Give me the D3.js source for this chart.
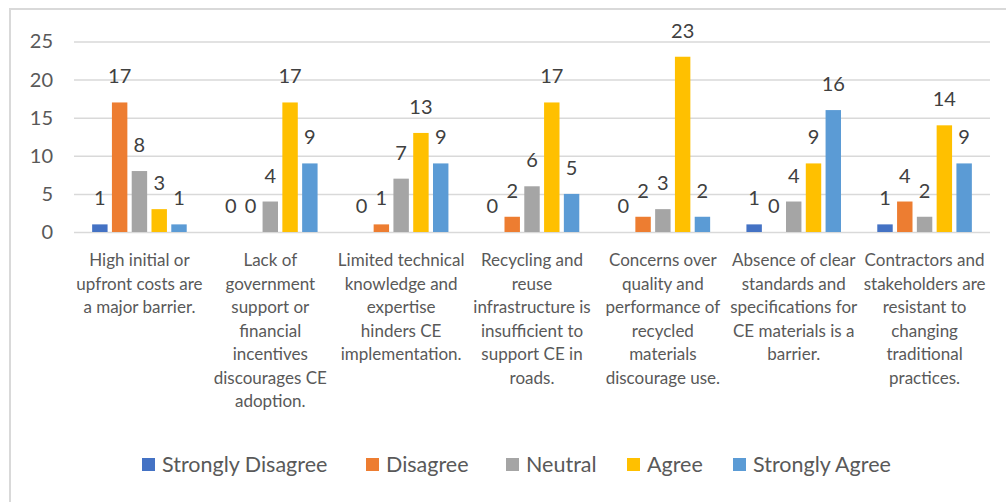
<!DOCTYPE html>
<html>
<head>
<meta charset="utf-8">
<script src="https://cdn.jsdelivr.net/npm/d3@7"></script>
<style>
  html, body { margin: 0; padding: 0; background: #fff; }
  svg { display: block; }
  text { font-family: Lato, "Open Sans", sans-serif; }
</style>
</head>
<body>
<svg id="chart" width="1006" height="502"></svg>
<script>
// Barrier statements (line breaks as shown under the axis)
const categories = [
  "High initial or\nupfront costs are\na major barrier.",
  "Lack of\ngovernment\nsupport or\nfinancial\nincentives\ndiscourages CE\nadoption.",
  "Limited technical\nknowledge and\nexpertise\nhinders CE\nimplementation.",
  "Recycling and\nreuse\ninfrastructure is\ninsufficient to\nsupport CE in\nroads.",
  "Concerns over\nquality and\nperformance of\nrecycled\nmaterials\ndiscourage use.",
  "Absence of clear\nstandards and\nspecifications for\nCE materials is a\nbarrier.",
  "Contractors and\nstakeholders are\nresistant to\nchanging\ntraditional\npractices."
];

const seriesNames = ["Strongly Disagree", "Disagree", "Neutral", "Agree", "Strongly Agree"];
const seriesColors = ["#4472C4", "#ED7D31", "#A5A5A5", "#FFC000", "#5B9BD5"];

const stronglyDisagree = [1, 0, 0, 0, 0, 1, 1];
const disagree         = [17, 0, 1, 2, 2, 0, 4];
const neutral          = [8, 4, 7, 6, 3, 4, 2];
const agree            = [3, 17, 13, 17, 23, 9, 14];
const stronglyAgree    = [1, 9, 9, 5, 2, 16, 9];

const yTicks = [0, 5, 10, 15, 20, 25];

const seriesValues = [stronglyDisagree, disagree, neutral, agree, stronglyAgree];

const svg = d3.select("#chart");

// chart frame
svg.append("rect")
  .attr("x", 10).attr("y", 9)
  .attr("width", 1010).attr("height", 510)
  .attr("fill", "#fff")
  .attr("stroke", "#d9d9d9")
  .attr("stroke-width", 2);

const plot = { left: 74, right: 990, top: 41.5, bottom: 232 };

const y = d3.scaleLinear().domain([0, 25]).range([plot.bottom, plot.top]);

const x0 = d3.scaleBand()
  .domain(d3.range(categories.length))
  .range([plot.left, plot.right])
  .paddingInner(0.244)
  .paddingOuter(0.122);

const x1 = d3.scaleBand()
  .domain(d3.range(seriesNames.length))
  .range([0, x0.bandwidth()])
  .paddingInner(0.22)
  .paddingOuter(0.11);

// gridlines and tick labels
const yAxis = d3.axisLeft(y).tickValues(yTicks).tickSize(-(plot.right - plot.left)).tickPadding(21);
const gy = svg.append("g").attr("transform", `translate(${plot.left},0)`).call(yAxis);
gy.select(".domain").remove();
gy.selectAll(".tick line").attr("stroke", "#d9d9d9").attr("stroke-width", 1.5);
gy.selectAll(".tick text")
  .attr("fill", "#595959")
  .style("font-size", "20px")
  .style("font-family", "Lato, sans-serif");

// bars and value labels
const groups = svg.append("g").selectAll("g")
  .data(categories.map((c, i) => i))
  .join("g")
  .attr("transform", i => `translate(${x0(i)},0)`);

groups.selectAll("rect")
  .data(i => seriesValues.map((vals, s) => ({ s, v: vals[i] })))
  .join("rect")
  .attr("x", d => x1(d.s))
  .attr("width", x1.bandwidth())
  .attr("y", d => y(d.v))
  .attr("height", d => y(0) - y(d.v))
  .attr("fill", d => seriesColors[d.s]);

groups.selectAll("text")
  .data(i => seriesValues.map((vals, s) => ({ s, v: vals[i] })))
  .join("text")
  .attr("x", d => x1(d.s) + x1.bandwidth() / 2)
  .attr("y", d => y(d.v) - 19)
  .attr("text-anchor", "middle")
  .attr("fill", "#404040")
  .style("font-size", "20px")
  .text(d => d.v);

// category labels
const catG = svg.append("g");
categories.forEach((c, i) => {
  const t = catG.append("text")
    .attr("x", x0(i) + x0.bandwidth() / 2)
    .attr("y", 266)
    .attr("text-anchor", "middle")
    .attr("fill", "#595959")
    .style("font-size", "17px");
  c.split("\n").forEach((line, k) => {
    t.append("tspan")
      .attr("x", x0(i) + x0.bandwidth() / 2)
      .attr("dy", k === 0 ? 0 : 23.5)
      .text(line);
  });
});

// legend
const legendX = [142, 366, 506, 627, 733];
const legend = svg.append("g").selectAll("g")
  .data(seriesNames)
  .join("g")
  .attr("transform", (d, i) => `translate(${legendX[i]},458)`);
legend.append("rect")
  .attr("width", 13).attr("height", 13)
  .attr("fill", (d, i) => seriesColors[i]);
legend.append("text")
  .attr("x", 20).attr("y", 14)
  .attr("fill", "#595959")
  .style("font-size", "21.5px")
  .text(d => d);
</script>
</body>
</html>
